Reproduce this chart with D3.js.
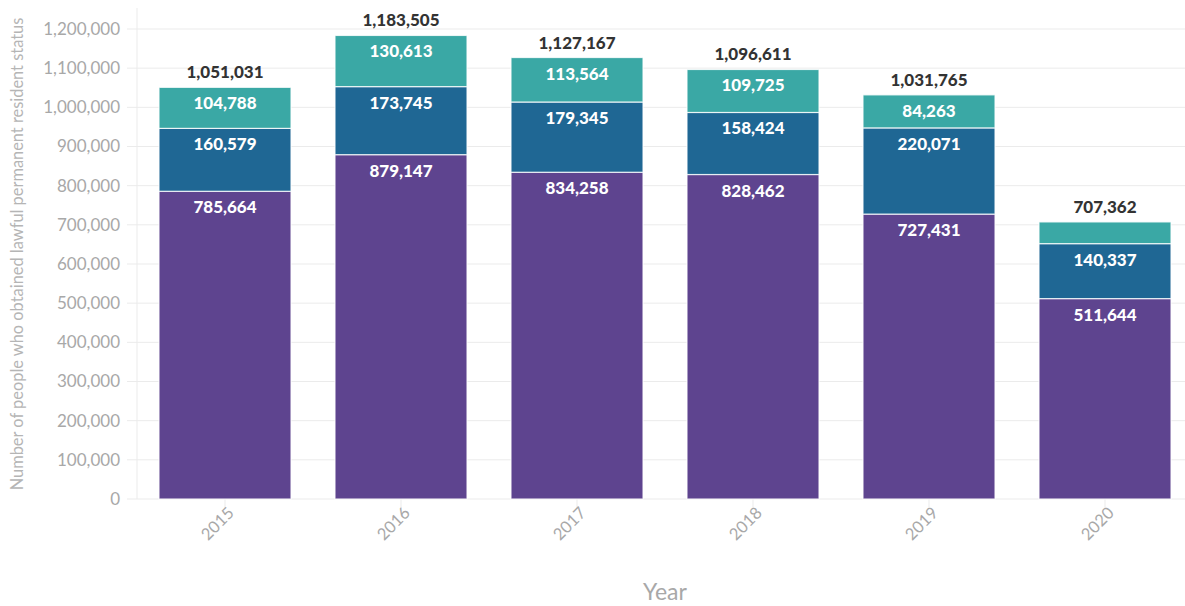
<!DOCTYPE html>
<html><head><meta charset="utf-8">
<script src="https://cdn.jsdelivr.net/npm/d3@7"></script>
<style>
body{margin:0;background:#fff;}
svg{display:block;font-family:Lato,"Open Sans",sans-serif;}
</style></head>
<body><svg id="c" width="1185" height="606"></svg>
<script>
const years = ["2015","2016","2017","2018","2019","2020"];
const seriesNames = ["s1","s2","s3"];
const s1 = [785664, 879147, 834258, 828462, 727431, 511644];
const s2 = [160579, 173745, 179345, 158424, 220071, 140337];
const s3 = [104788, 130613, 113564, 109725, 84263, 55381];
const totals = [1051031, 1183505, 1127167, 1096611, 1031765, 707362];
const yTicks = [0,100000,200000,300000,400000,500000,600000,700000,800000,900000,1000000,1100000,1200000];
const colors = ["#5e448f","#1f6794","#3aa8a5"];

const svg = d3.select("#c");
const x0 = 137, yBottom = 499, yTop = 29;
const x = d3.scaleBand().domain(years).range([x0, 1193]).paddingInner(0.25).paddingOuter(0.125);
const y = d3.scaleLinear().domain([0,1200000]).range([yBottom, yTop]);
const fmt = d3.format(",");

// grid
svg.append("g").selectAll("line").data(yTicks).join("line")
  .attr("x1", 127).attr("x2", 1185)
  .attr("y1", d=>y(d)).attr("y2", d=>y(d))
  .attr("stroke", "#ebebeb").attr("stroke-width", 1);
svg.append("line").attr("x1", x0).attr("x2", x0).attr("y1", 8).attr("y2", yBottom)
  .attr("stroke", "#ebebeb");
// y tick labels
svg.append("g").selectAll("text").data(yTicks).join("text")
  .attr("x", 120).attr("y", d=>y(d)).attr("dy","0.35em")
  .attr("text-anchor","end").attr("fill","#a8a8a8").attr("font-size",17)
  .text(d=>fmt(d));
// x ticks
svg.append("g").selectAll("line").data(years).join("line")
  .attr("x1", d=>x(d)+x.bandwidth()/2).attr("x2", d=>x(d)+x.bandwidth()/2)
  .attr("y1", yBottom).attr("y2", yBottom+10).attr("stroke","#ebebeb");
svg.append("g").selectAll("text").data(years).join("text")
  .attr("transform", d=>`translate(${x(d)+x.bandwidth()/2+6},${yBottom+11}) rotate(-45)`)
  .attr("text-anchor","end").attr("dy","0.35em").attr("fill","#a8a8a8").attr("font-size",16.5)
  .text(d=>d);

// axis titles
svg.append("text").attr("transform",`translate(23,254) rotate(-90)`)
  .attr("text-anchor","middle").attr("fill","#b5b5b5").attr("font-size",16.4)
  .text("Number of people who obtained lawful permanent resident status");
svg.append("text").attr("x", 665).attr("y", 600).attr("text-anchor","middle")
  .attr("fill","#a8a8a8").attr("font-size",23).text("Year");

// stack
const rows = years.map((yr,i)=>({year:yr, s1:s1[i], s2:s2[i], s3:s3[i]}));
const stack = d3.stack().keys(seriesNames)(rows);
const g = svg.append("g");
stack.forEach((layer, li)=>{
  g.append("g").selectAll("rect").data(layer).join("rect")
    .attr("x", d=>x(d.data.year)).attr("width", x.bandwidth())
    .attr("y", d=>y(d[1])).attr("height", d=>y(d[0])-y(d[1]))
    .attr("fill", colors[li]).attr("stroke","#fff").attr("stroke-opacity",0.8).attr("stroke-width",1.2);
  g.append("g").selectAll("text").data(layer.filter(d=>y(d[0])-y(d[1])>25)).join("text")
    .attr("x", d=>x(d.data.year)+x.bandwidth()/2).attr("y", d=>y(d[1])+22)
    .attr("text-anchor","middle").attr("fill","#fff").attr("font-weight",900).attr("font-size",17)
    .text(d=>fmt(d[1]-d[0]));
});
g.append("g").selectAll("text").data(years).join("text")
  .attr("x", d=>x(d)+x.bandwidth()/2).attr("y", (d,i)=>y(totals[i])-9)
  .attr("text-anchor","middle").attr("fill","#333").attr("font-weight",900).attr("font-size",17)
  .text((d,i)=>fmt(totals[i]));
</script></body></html>
